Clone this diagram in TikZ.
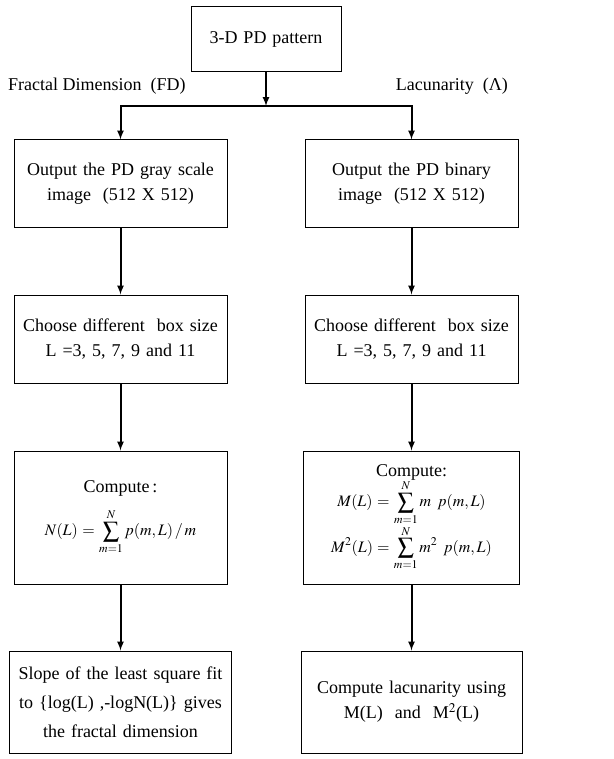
\documentclass[tikz,border=0pt]{standalone}
\usepackage{mathptmx}
\usepackage{fontspec}
\setmainfont{Liberation Serif}
\usepackage{tikz}
\usetikzlibrary{arrows, positioning}
\usepackage{amsmath}

\begin{document}
\begin{tikzpicture}[
            x = 1pt, y = 1pt,
            > = latex, % arrow head style
            node distance = 67pt, % gap between boxes
            font = \fontsize{18}{25}\selectfont
        ]

        \tikzstyle{box}=[
            draw = black,
            line width = 1pt,
            rectangle,
            align = center,
            inner sep = 3pt,
            text width = 200pt,
            minimum width = 213pt
        ]
        \tikzstyle{link}=[->, line width = 2pt]

        \useasboundingbox (0,0) rectangle (613,-759);

        \node[box, text width = 140pt, minimum width = 150pt, minimum height = 65pt] (pd) at (266,-39.5) {3-D PD pattern};
        \node[anchor = west, inner sep = 4pt] (fdlabel) at (4,-86) {Fractal Dimension~ (FD)};
        \node[anchor = east, inner sep = 4pt] (laclabel) at (512,-86) {Lacunarity~ (Λ)};

        % left column: fractal dimension
        \node[box, minimum height = 87pt] (fd1) at (120.5,-183.5) {Output the PD gray scale\\image~ (512 X 512)};
        \node[box, minimum height = 88pt] (fd2) [below = of fd1] {Choose different~ box size\\L =3, 5, 7, 9 and 11};
        \node[box, minimum height = 133pt] (fd3) [below = of fd2] {Compute\,:\\[12pt]
            {\fontsize{16}{18}\selectfont $\displaystyle N(L)=\sum_{m=1}^{N} p(m,L)\,/\,m$}};
        \node[box, text width = 210pt, minimum width = 222pt, minimum height = 102pt, font = \fontsize{18}{29}\selectfont] (fd4) [below = 66pt of fd3] {Slope of the least square fit\\to \{log(L) ,-logN(L)\} gives\\the fractal dimension};

        % right column: lacunarity
        \node[box, minimum height = 87pt] (lac1) at (411.5,-183.5) {Output the PD binary\\image~ (512 X 512)};
        \node[box, minimum height = 88pt] (lac2) [below = of lac1] {Choose different~ box size\\L =3, 5, 7, 9 and 11};
        \node[box, minimum width = 216pt, minimum height = 133pt] (lac3) [below = of lac2] {Compute:\\[-1pt]
            {\fontsize{16}{18}\selectfont $\displaystyle M(L)=\sum_{m=1}^{N} m\;\, p(m,L)$}\\[0pt]
            {\fontsize{16}{18}\selectfont $\displaystyle M^{2}(L)=\sum_{m=1}^{N} m^{2}\;\, p(m,L)$}};
        \node[box, text width = 210pt, minimum width = 221pt, minimum height = 102pt] (lac4) [below = 66pt of lac3] {Compute lacunarity using\\M(L)~ and~ M$^{2}$(L)};

        \coordinate (split) at (266,-106);

        \draw[link] (pd) -- (split);
        \draw[link] (split) -| (fd1);
        \draw[link] (split) -| (lac1);
        \draw[link] (fd1) -- (fd2);
        \draw[link] (fd2) -- (fd3);
        \draw[link] (fd3) -- (fd4);
        \draw[link] (lac1) -- (lac2);
        \draw[link] (lac2) -- (lac3);
        \draw[link] (lac3) -- (lac4);
    \end{tikzpicture}
\end{document}
